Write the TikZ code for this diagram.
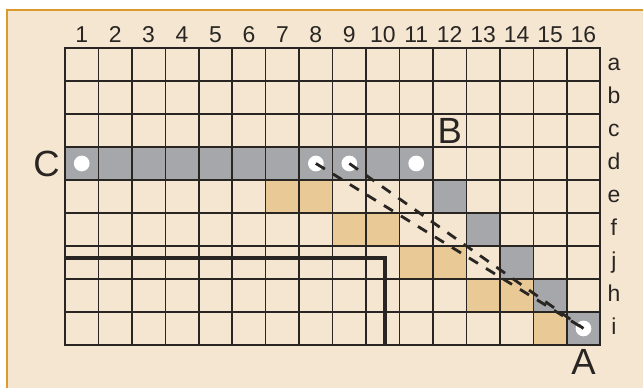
\documentclass[tikz,border=0pt]{standalone}
\usepackage{fontspec}
\setmainfont{Liberation Sans}
\definecolor{crema}{RGB}{245,230,209}
\definecolor{gris}{RGB}{166,167,171}
\definecolor{ocre}{RGB}{233,201,150}
\definecolor{naranja}{RGB}{219,154,43}
\definecolor{tinta}{RGB}{40,37,34}
\usepackage{tikz}

\begin{document}
\begin{tikzpicture}[
    x=1cm, y=-0.9865cm,
    rejilla/.style={draw=tinta, line width=1.3pt, line cap=rect},
    wall/.style={draw=tinta, line width=3.4pt},
    ruta/.style={draw=tinta, line width=2.4pt, dash pattern=on 9pt off 8pt},
    dot/.style={circle, fill=white, minimum size=0.47cm, inner sep=0pt},
    lbl/.style={font=\fontsize{19.5}{19.5}\selectfont, anchor=base, text=tinta},
    big/.style={font=\fontsize{31}{31}\selectfont, text=tinta, inner sep=0pt}
  ]
    \useasboundingbox (-1.943,-1.4545) rectangle (17.28,10.303);
    \fill[crema] (-1.734,-1.152) rectangle (17.28,10.303);
    \draw[naranja, line width=1.7pt] (-1.734,10.303) -- (-1.734,-1.152) -- (17.28,-1.152);

    \fill[gris] (0,3) rectangle (11,4);
    \foreach \c/\r in {12/5,13/6,14/7,15/8,16/9}
      \fill[gris] (\c-1,\r-1) rectangle ++(1,1);
    \foreach \c/\r in {7/5,8/5,9/6,10/6,11/7,12/7,13/8,14/8,15/9}
      \fill[ocre] (\c-1,\r-1) rectangle ++(1,1);
    \foreach \c in {0,...,16}
      \draw[rejilla] (\c,0) -- (\c,9);
    \foreach \r in {0,...,9}
      \draw[rejilla] (0,\r) -- (16,\r);
    \draw[wall] (0,6.355) -- (9.557,6.355) -- (9.557,9);

    \foreach \c in {1,...,16}
      \node[lbl] (col\c) at (\c-0.5,-0.152) {\c};
    \foreach \l [count=\r] in {a,b,c,d,e,f,j,h,i}
      \node[lbl] (fila\l) at (16.41,\r-0.31) {\l};

    \node[dot] (pc) at (0.5,3.5) {};
    \node[dot] (p8) at (7.5,3.5) {};
    \node[dot] (p9) at (8.5,3.5) {};
    \node[dot] (p11) at (10.5,3.5) {};
    \node[dot] (pa) at (15.5,8.5) {};

    \draw[ruta] (p8.center) -- (pa.center);
    \draw[ruta] (p9.center) -- (pa.center);

    \node[big] (A) at (15.5,9.515) {A};
    \node[big] (B) at (11.5,2.5) {B};
    \node[big] (C) at (-0.553,3.5) {C};
  \end{tikzpicture}
\end{document}
